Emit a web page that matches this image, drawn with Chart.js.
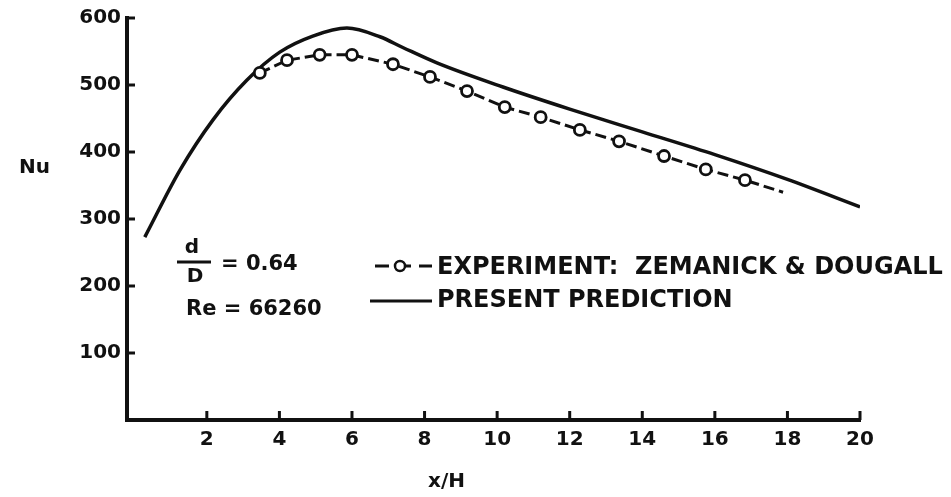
<!DOCTYPE html>
<html>
<head>
<meta charset="utf-8">
<title>Nu vs x/H</title>
<script src="https://cdn.jsdelivr.net/npm/chart.js@4.4.1/dist/chart.umd.min.js"></script>
<style>
  html, body { margin: 0; padding: 0; background: #fff; }
</style>
</head>
<body>
<canvas id="nuChart" width="951" height="497"></canvas>
<script>
// values
const xTicks = [2, 4, 6, 8, 10, 12, 14, 16, 18, 20];
const yTicks = [100, 200, 300, 400, 500, 600];

// present prediction (solid curve)
const predX  = [0.29, 1.26, 2.17, 3.1, 4.01, 4.92, 5.86, 6.77, 7.4, 8.34, 10.16, 12.0, 14.0, 16.0, 18.0, 20.0];
const predNu = [273, 373, 448, 507, 549, 573, 585, 572, 556, 533, 497, 464, 430, 396, 359, 318];

// experiment: Zemanick & Dougall (circles, dashed); last entry is the dashed tail with no circle
const expX  = [3.46, 4.21, 5.11, 6.0, 7.13, 8.15, 9.17, 10.21, 11.2, 12.28, 13.36, 14.6, 15.75, 16.83, 17.88];
const expNu = [518, 537, 545, 545, 531, 512, 491, 467, 452, 433, 416, 394, 374, 358, 340];

const INK = '#111';
const FONT = "'DejaVu Sans', 'Liberation Sans', sans-serif";

function toPoints(xs, ys) {
  return xs.map((x, i) => ({ x, y: ys[i] }));
}

// inward ticks, axis titles, legend and the d/D note
const decorPlugin = {
  id: 'decor',
  afterDraw(chart) {
    const { ctx, scales: { x, y } } = chart;
    ctx.save();
    ctx.strokeStyle = INK;
    ctx.fillStyle = INK;
    ctx.lineCap = 'butt';

    // tick marks pointing into the plot
    ctx.lineWidth = 3;
    yTicks.forEach(v => {
      const py = y.getPixelForValue(v);
      ctx.beginPath();
      ctx.moveTo(x.left, py);
      ctx.lineTo(x.left + 8, py);
      ctx.stroke();
    });
    xTicks.forEach(v => {
      const px = x.getPixelForValue(v);
      ctx.beginPath();
      ctx.moveTo(px, y.bottom);
      ctx.lineTo(px, y.bottom - 9);
      ctx.stroke();
    });

    // axis titles
    ctx.font = `bold 20px ${FONT}`;
    ctx.textBaseline = 'middle';
    ctx.textAlign = 'left';
    ctx.fillText('Nu', 19, 168);
    ctx.fillText('x/H', 428, 482);

    // legend
    const [expDs, predDs] = chart.data.datasets;
    ctx.lineWidth = 3;
    ctx.setLineDash([14, 8]);
    ctx.beginPath();
    ctx.moveTo(375, 266);
    ctx.lineTo(432, 266);
    ctx.stroke();
    ctx.setLineDash([]);
    ctx.beginPath();
    ctx.arc(400, 266, 5, 0, Math.PI * 2);
    ctx.fillStyle = '#fff';
    ctx.fill();
    ctx.lineWidth = 2.5;
    ctx.stroke();
    ctx.fillStyle = INK;
    ctx.lineWidth = 3;
    ctx.beginPath();
    ctx.moveTo(370, 301);
    ctx.lineTo(432, 301);
    ctx.stroke();

    ctx.font = `bold 24px ${FONT}`;
    ctx.fillText(expDs.label, 437, 268);
    ctx.fillText(predDs.label, 437, 301);

    // d/D = 0.64, Re = 66260
    ctx.font = `bold 20px ${FONT}`;
    ctx.textAlign = 'center';
    ctx.fillText('d', 192, 248);
    ctx.fillText('D', 195, 277);
    ctx.lineWidth = 3;
    ctx.beginPath();
    ctx.moveTo(177, 262);
    ctx.lineTo(211, 262);
    ctx.stroke();
    ctx.textAlign = 'left';
    ctx.font = `bold 21px ${FONT}`;
    ctx.fillText('= 0.64', 221, 265);
    ctx.fillText('Re = 66260', 186, 310);

    ctx.restore();
  }
};

const chart = new Chart(document.getElementById('nuChart'), {
  type: 'line',
  data: {
    datasets: [
      {
        label: 'EXPERIMENT:  ZEMANICK & DOUGALL',
        data: toPoints(expX, expNu),
        borderColor: INK,
        borderWidth: 3,
        borderDash: [11, 5],
        tension: 0,
        pointRadius: expX.map((_, i) => (i === expX.length - 1 ? 0 : 5.5)),
        pointBorderWidth: 2.8,
        pointBorderColor: INK,
        pointBackgroundColor: '#fff',
        fill: false
      },
      {
        label: 'PRESENT PREDICTION',
        data: toPoints(predX, predNu),
        borderColor: INK,
        borderWidth: 3.5,
        cubicInterpolationMode: 'monotone',
        pointRadius: 0,
        fill: false
      }
    ]
  },
  options: {
    responsive: false,
    animation: false,
    layout: { padding: { top: 18, right: 91, left: 0, bottom: 0 } },
    plugins: {
      legend: { display: false },
      tooltip: { enabled: false }
    },
    scales: {
      x: {
        type: 'linear',
        min: -0.2,
        max: 20,
        afterBuildTicks: s => { s.ticks = xTicks.map(v => ({ value: v })); },
        afterFit: s => { s.height = 77; },
        grid: { drawOnChartArea: false, drawTicks: false },
        border: { display: true, color: INK, width: 4 },
        ticks: {
          color: INK,
          padding: 8,
          maxRotation: 0,
          font: { family: FONT, size: 20, weight: 'bold' }
        }
      },
      y: {
        type: 'linear',
        min: 0,
        max: 600,
        afterBuildTicks: s => { s.ticks = yTicks.map(v => ({ value: v })); },
        afterFit: s => { s.width = 127; },
        grid: { drawOnChartArea: false, drawTicks: false },
        border: { display: true, color: INK, width: 4 },
        ticks: {
          color: INK,
          padding: 6,
          font: { family: FONT, size: 20, weight: 'bold' }
        }
      }
    }
  },
  plugins: [decorPlugin]
});
</script>
</body>
</html>
